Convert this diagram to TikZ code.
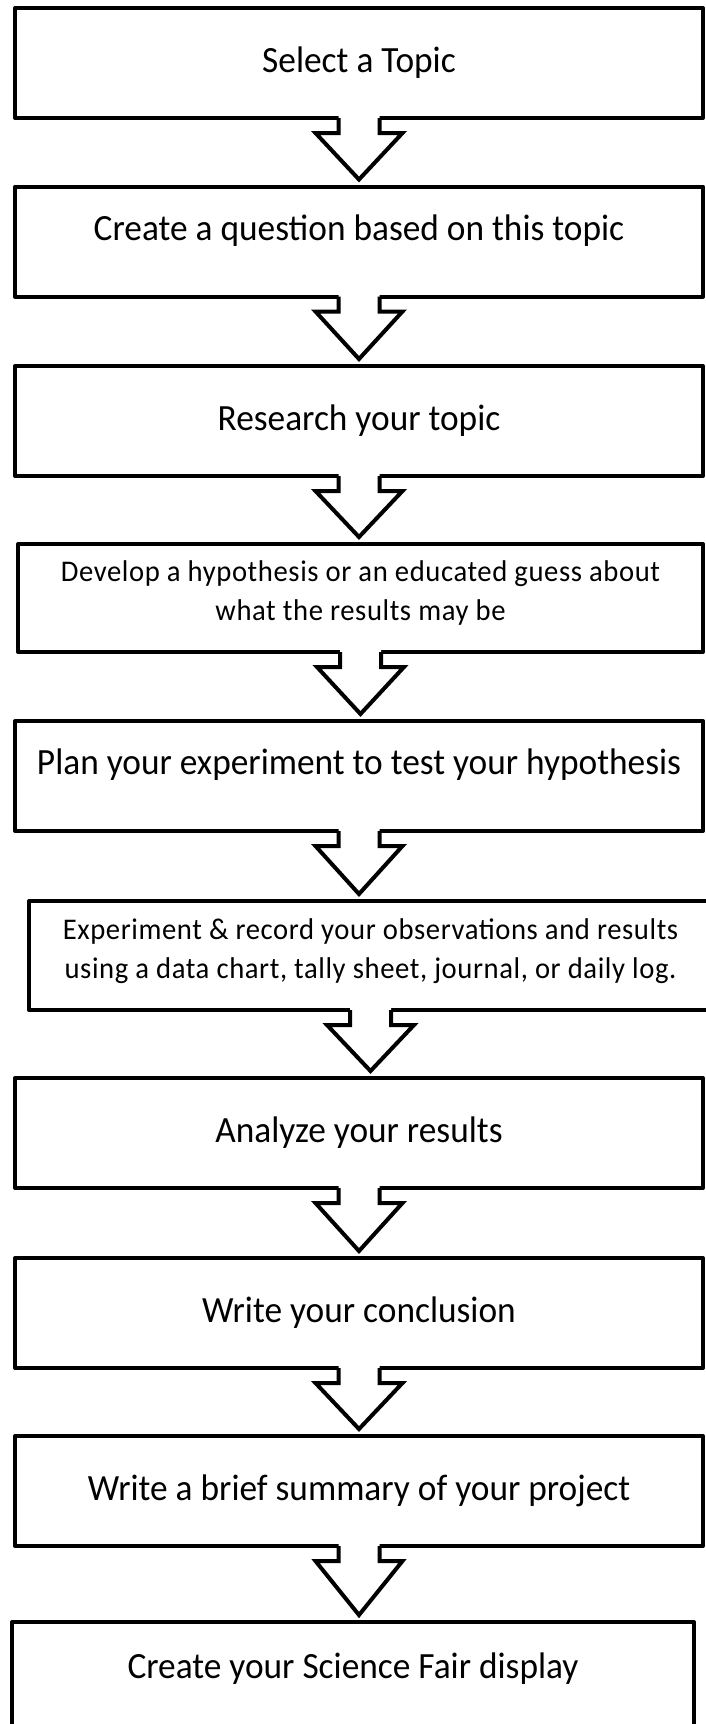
\documentclass[tikz,border=0pt]{standalone}
\usepackage{fontspec}
\setmainfont{Carlito}[FakeStretch=0.955]
\newfontfamily\spacedfont{Carlito}[FakeStretch=0.955,LetterSpace=2.0]
\usetikzlibrary{calc}

% block arrow hanging under box #1, pointing at box #2
\newcommand{\flowarrow}[2]{%
  \fill[white] ($(#1.south)+(-20.5,-3)$) -- ($(#1.south)+(-20.5,15)$) -- ($(#1.south)+(-43.5,15)$)
    -- ($(#1.south |- #2.north)+(0,-7)$) -- ($(#1.south)+(43.5,15)$) -- ($(#1.south)+(20.5,15)$)
    -- ($(#1.south)+(20.5,-3)$) -- cycle;
  \draw[line width=2pt] ($(#1.south)+(-20.5,0)$) -- ($(#1.south)+(-20.5,15)$) -- ($(#1.south)+(-43.5,15)$)
    -- ($(#1.south |- #2.north)+(0,-7)$) -- ($(#1.south)+(43.5,15)$) -- ($(#1.south)+(20.5,15)$)
    -- ($(#1.south)+(20.5,0)$);
}

\begin{document}
\begin{tikzpicture}[x=0.5pt,y=-0.5pt,
    stepbox/.style={draw, line width=2pt, line join=round, outer sep=0pt, inner sep=0pt,
      minimum width=344pt, minimum height=55pt, align=center,
      font=\fontsize{18.5}{22}\selectfont},
    smalltext/.style={font=\spacedfont\fontsize{15}{19.5}\selectfont},
    lift/.style={text depth=#1}]
    \clip (0,0) rectangle (706,1724);

    \node[stepbox] (topic) at (359,63) {Select a Topic};
    \node[stepbox,lift=14pt] (question) at (359,241.5) {Create a question based on this topic};
    \node[stepbox] (research) at (359,421) {Research your topic};
    \node[stepbox,smalltext,lift=7pt,minimum width=342.5pt,minimum height=54pt] (hypothesis) at (360.5,598)
      {Develop a hypothesis or an educated guess about\\what the results may be};
    \node[stepbox,lift=14pt] (plan) at (359,776) {Plan your experiment to test your hypothesis};
    \node[stepbox,smalltext,lift=7pt,minimum width=341.5pt,minimum height=54.5pt] (record) at (370.5,955.5)
      {Experiment \& record your observations and results\\using a data chart, tally sheet, journal, or daily log.};
    \node[stepbox] (analyze) at (359,1133) {Analyze your results};
    \node[stepbox] (conclusion) at (359,1313) {Write your conclusion};
    \node[stepbox] (summary) at (359,1491) {Write a brief summary of your project};
    \node[stepbox,lift=13pt,minimum width=341pt,minimum height=56.5pt] (display) at (353,1678.5) {Create your Science Fair display};

    \flowarrow{topic}{question}
    \flowarrow{question}{research}
    \flowarrow{research}{hypothesis}
    \flowarrow{hypothesis}{plan}
    \flowarrow{plan}{record}
    \flowarrow{record}{analyze}
    \flowarrow{analyze}{conclusion}
    \flowarrow{conclusion}{summary}
    \flowarrow{summary}{display}
\end{tikzpicture}
\end{document}
